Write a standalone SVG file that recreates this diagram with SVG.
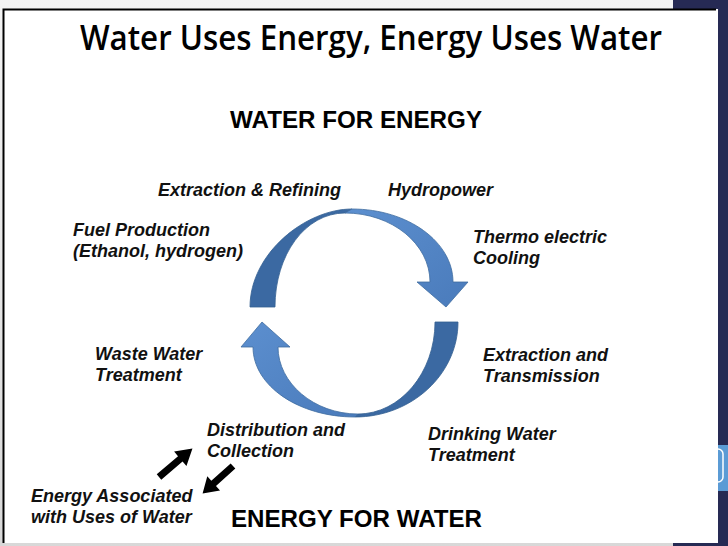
<svg xmlns="http://www.w3.org/2000/svg" xmlns:xlink="http://www.w3.org/1999/xlink" width="728" height="546" viewBox="0 0 728 546">
<defs>
<linearGradient id="bg" x1="0" y1="0" x2="0" y2="1">
<stop offset="0" stop-color="#f3f3f3"/><stop offset="1" stop-color="#d8d8d8"/>
</linearGradient>
<linearGradient id="light" x1="0" y1="0" x2="1" y2="1">
<stop offset="0" stop-color="#5c8fcf"/><stop offset="1" stop-color="#4a7bbb"/>
</linearGradient>
<polygon id="blk" points="0,-3.5 28,-3.5 28,-9.5 44,0 28,9.5 28,3.5 0,3.5"/>
<style>
.lbl{font-family:"Liberation Sans",Arial,sans-serif;font-weight:bold;font-style:italic;font-size:18px;fill:#111}
.hdr{font-family:"Liberation Sans",Arial,sans-serif;font-weight:bold;font-size:24px;fill:#000}
.ttl{font-family:"Open Sans","Noto Sans",sans-serif;font-weight:600;font-size:34px;fill:#000}
.lt{fill:url(#light);stroke:#3f6c9f;stroke-width:0.8}
.dk{fill:#3b69a2;stroke:#345f90;stroke-width:0.8}
</style>
</defs>
<rect x="0" y="0" width="728" height="546" fill="url(#bg)"/>
<rect x="673" y="0" width="55" height="546" fill="#262a54"/>
<rect x="716" y="445" width="12" height="46" fill="#5b9bd5"/>
<rect x="700" y="449" width="23" height="33" rx="5" fill="none" stroke="#ffffff" stroke-width="1.5"/>
<rect x="3" y="9" width="715" height="534" fill="#ffffff"/>
<path d="M3.5 543 V9.5 H716" fill="none" stroke="#000" stroke-width="2"/>

<text class="ttl" x="80" y="50" textLength="582" lengthAdjust="spacingAndGlyphs">Water Uses Energy, Energy Uses Water</text>
<text class="hdr" x="230" y="128" textLength="252" lengthAdjust="spacingAndGlyphs">WATER FOR ENERGY</text>
<text class="hdr" x="231" y="527" textLength="251" lengthAdjust="spacingAndGlyphs">ENERGY FOR WATER</text>

<g id="connectors">
<g id="top-arrow">
<path class="dk" d="M250 307 C250 253 306 209 352 209 L345 213 C305 213 275 255 275 307 Z"/>
<path class="lt" d="M352 209 C408 209 453 242 453 282 L468 282 L446 307 L417 282 L430 282 C430 244 392 213 345 213 Z"/>
</g>
<g id="bottom-arrow">
<path class="dk" d="M458 322 C458 374 412 417 355 417 L358 414 C400 414 435 373 435 322 Z"/>
<path class="lt" d="M355 417 C299 417 253 386 253 347 L241 347 L262 322 L290 347 L278 347 C278 383 314 414 358 414 Z"/>
</g>
<use xlink:href="#blk" href="#blk" transform="translate(159 477) rotate(-40.5)" fill="#000"/>
<use xlink:href="#blk" href="#blk" transform="translate(233 466) rotate(138) scale(0.93 1)" fill="#000"/>
</g>

<g id="extraction-refining"><text class="lbl" x="158" y="196">Extraction &amp; Refining</text></g>
<g id="hydropower"><text class="lbl" x="388" y="196">Hydropower</text></g>
<g id="fuel-production"><text class="lbl" x="73" y="236">Fuel Production</text><text class="lbl" x="73" y="257">(Ethanol, hydrogen)</text></g>
<g id="thermo-electric"><text class="lbl" x="473" y="243">Thermo electric</text><text class="lbl" x="473" y="264">Cooling</text></g>
<g id="waste-water"><text class="lbl" x="95" y="360">Waste Water</text><text class="lbl" x="95" y="381">Treatment</text></g>
<g id="extraction-transmission"><text class="lbl" x="483" y="361">Extraction and</text><text class="lbl" x="483" y="382">Transmission</text></g>
<g id="distribution"><text class="lbl" x="207" y="436">Distribution and</text><text class="lbl" x="207" y="457">Collection</text></g>
<g id="drinking-water"><text class="lbl" x="428" y="440">Drinking Water</text><text class="lbl" x="428" y="461">Treatment</text></g>
<g id="energy-associated"><text class="lbl" x="31" y="502">Energy Associated</text><text class="lbl" x="31" y="523">with Uses of Water</text></g>
</svg>
